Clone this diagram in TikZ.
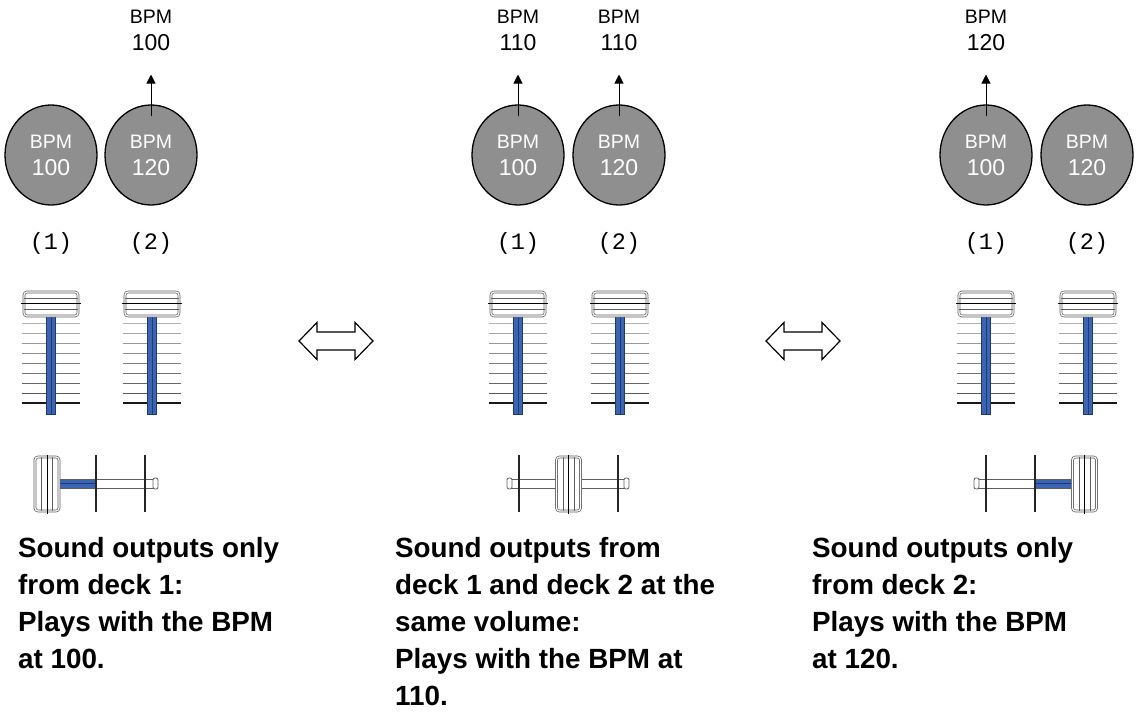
\documentclass[tikz,border=0pt]{standalone}
\usepackage{fontspec}
\setmainfont{Liberation Sans}
\newfontfamily\deckfont{Liberation Mono}
\usetikzlibrary{shapes.geometric, arrows.meta}
\definecolor{FaderBlue}{HTML}{3B65B2}
\definecolor{FaderDark}{HTML}{1F3A70}
\definecolor{DeckGray}{HTML}{8F8F8F}
\definecolor{KnobEdge}{HTML}{5E5E5E}
\tikzset{
    % Deck and label styles
    deck/.style={
        ellipse,
        draw=black,
        fill=DeckGray,
        line width=1.3pt,
        minimum width=92pt,
        minimum height=100pt,
        inner sep=0pt,
        text=white,
        align=center,
        font=\fontsize{19.5}{27}\selectfont
    },
    bpmlabel/.style={
        align=center,
        inner sep=0pt,
        font=\fontsize{19.5}{27}\selectfont
    },
    decknum/.style={
        inner sep=0pt,
        font=\deckfont\fontsize{23.5}{24}\selectfont
    },
    caption/.style={
        anchor=north west,
        align=left,
        inner sep=0pt,
        font=\bfseries\fontsize{27.8}{37}\selectfont
    },
    % Arrow styles
    arrow/.style={
        -{Triangle[length=9pt,width=9pt]},
        line width=0.9pt
    },
    swaparrow/.style={
        draw=black,
        fill=white,
        line width=1.2pt,
        line join=miter
    },
    % Fader parts
    tick/.style={line width=0.8pt},
    knob/.style={
        draw=KnobEdge,
        double=white,
        double distance=1.2pt,
        line width=0.7pt,
        rounded corners=3pt,
        fill=white
    },
    stem/.style={fill=FaderBlue, draw=FaderDark, line width=0.6pt},
    guide/.style={line width=1.8pt, draw=black!85},
    rail/.style={fill=white, draw=KnobEdge, line width=0.8pt},
    chfader/.pic={
        % scale marks
        \foreach \i in {0,...,7} {
            \pgfmathtruncatemacro\shade{30+5*\i}
            \draw[tick, black!\shade] (-29,19+10*\i) -- (29,19+10*\i);
        }
        \draw[line width=2pt, black!90] (-29,99) -- (29,99);
        % stem
        \draw[stem] (-4.5,12) rectangle (4.5,110);
        \draw[FaderDark, line width=0.5pt] (0,12) -- (0,110);
        % knob
        \draw[knob] (-27,-12) rectangle (27,12);
        \draw[KnobEdge, line width=0.6pt] (-27,-5.5) -- (27,-5.5) (-27,5.5) -- (27,5.5);
        \draw[line width=1pt] (-30,0) -- (30,0);
    },
    xknob/.pic={
        \draw[knob] (-12,-27) rectangle (12,27);
        \draw[KnobEdge, line width=0.6pt] (-5.5,-27) -- (-5.5,27) (5.5,-27) -- (5.5,27);
        \draw[line width=0.9pt] (0,-29.5) -- (0,29.5);
    },
    railcap/.pic={
        \draw[rail, rounded corners=2pt] (-2.5,-5.5) rectangle (2.5,5.5);
    },
    swap/.pic={
        \draw[swaparrow] (-37,0) -- (-19,-18.5) -- (-19,-9) -- (19,-9) -- (19,-18.5)
            -- (37,0) -- (19,18.5) -- (19,9) -- (-19,9) -- (-19,18.5) -- cycle;
    }
}

\begin{document}
\begin{tikzpicture}[x=1pt, y=-1pt]
    \useasboundingbox (0,0) rectangle (1136,727);

    % ---- left: deck 1 only ----
    \node[deck] (d11) at (51,155) {BPM\\{\fontsize{23}{27}\selectfont 100}};
    \node[deck] (d12) at (151,155) {BPM\\{\fontsize{23}{27}\selectfont 120}};
    \node[bpmlabel] (top12) at (151,30) {BPM\\{\fontsize{23}{27}\selectfont 100}};
    \draw[arrow] ([yshift=-12pt]d12.north) -- ([yshift=-24pt]top12.south);
    \node[decknum] (n11) at (51,243) {(1)};
    \node[decknum] (n12) at (151,243) {(2)};
    \pic at (51,304) {chfader};
    \pic at (152,304) {chfader};

    \draw[rail] (47,479) rectangle (155,488);
    \pic at (155.5,483.5) {railcap};
    \fill[FaderBlue] (59,479) rectangle (96,488);
    \draw[FaderDark, line width=0.5pt] (59,483.5) -- (96,483.5);
    \draw[KnobEdge, line width=0.8pt] (59,479) -- (96,479) (59,488) -- (96,488);
    \draw[guide] (96,455) -- (96,512) (145,455) -- (145,512);
    \pic at (47,484) {xknob};

    \node[caption] (cap1) at (18,537) {Sound outputs only\\from deck 1:\\Plays with the BPM\\at 100.};

    \pic at (336,341) {swap};

    % ---- middle: both decks ----
    \node[deck] (d21) at (518,155) {BPM\\{\fontsize{23}{27}\selectfont 100}};
    \node[deck] (d22) at (619,155) {BPM\\{\fontsize{23}{27}\selectfont 120}};
    \node[bpmlabel] (top21) at (518,30) {BPM\\{\fontsize{23}{27}\selectfont 110}};
    \node[bpmlabel] (top22) at (619,30) {BPM\\{\fontsize{23}{27}\selectfont 110}};
    \draw[arrow] ([yshift=-12pt]d21.north) -- ([yshift=-24pt]top21.south);
    \draw[arrow] ([yshift=-12pt]d22.north) -- ([yshift=-24pt]top22.south);
    \node[decknum] (n21) at (518,243) {(1)};
    \node[decknum] (n22) at (619,243) {(2)};
    \pic at (518,304) {chfader};
    \pic at (620,304) {chfader};

    \draw[rail] (509,479) rectangle (627,488);
    \pic at (509.5,483.5) {railcap};
    \pic at (626.5,483.5) {railcap};
    \draw[guide] (519,455) -- (519,512) (618,455) -- (618,512);
    \pic at (568.5,484) {xknob};

    \node[caption] (cap2) at (395,537) {Sound outputs from\\deck 1 and deck 2 at the\\same volume:\\Plays with the BPM at\\110.};

    \pic at (803,341) {swap};

    % ---- right: deck 2 only ----
    \node[deck] (d31) at (986,155) {BPM\\{\fontsize{23}{27}\selectfont 100}};
    \node[deck] (d32) at (1087,155) {BPM\\{\fontsize{23}{27}\selectfont 120}};
    \node[bpmlabel] (top31) at (986,30) {BPM\\{\fontsize{23}{27}\selectfont 120}};
    \draw[arrow] ([yshift=-12pt]d31.north) -- ([yshift=-24pt]top31.south);
    \node[decknum] (n31) at (986,243) {(1)};
    \node[decknum] (n32) at (1087,243) {(2)};
    \pic at (986,304) {chfader};
    \pic at (1088,304) {chfader};

    \draw[rail] (976,479) rectangle (1084.5,488);
    \pic at (976.5,483.5) {railcap};
    \fill[FaderBlue] (1035,479) rectangle (1073,488);
    \draw[FaderDark, line width=0.5pt] (1035,483.5) -- (1073,483.5);
    \draw[KnobEdge, line width=0.8pt] (1035,479) -- (1073,479) (1035,488) -- (1073,488);
    \draw[guide] (986,455) -- (986,512) (1035,455) -- (1035,512);
    \pic at (1084.5,484) {xknob};

    \node[caption] (cap3) at (812,537) {Sound outputs only\\from deck 2:\\Plays with the BPM\\at 120.};
\end{tikzpicture}
\end{document}
